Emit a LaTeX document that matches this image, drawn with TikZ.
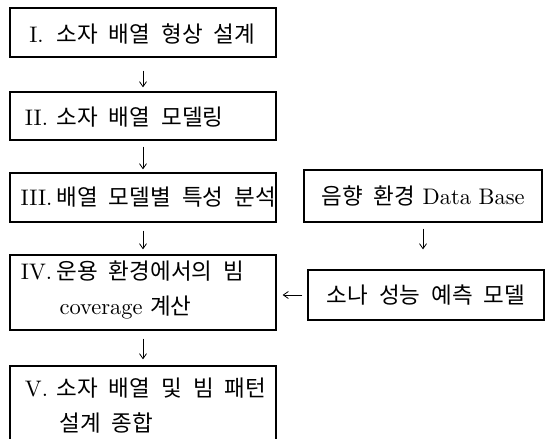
\documentclass[tikz,border=0pt]{standalone}
\usepackage{fontspec}
\setmainfont{lmroman10-regular}[Extension=.otf]
\newfontfamily\kr{Noto Sans CJK KR}
\usetikzlibrary{arrows.meta}
\newcommand{\K}[1]{{\kr\fontsize{22.5}{35}\selectfont\spaceskip=11pt\relax #1}}
\newcommand{\num}[1]{\makebox[40pt][c]{\fontsize{22.5}{35}\selectfont #1}}
\begin{document}
\begin{tikzpicture}[x=1pt,y=-1pt,
  box/.style={draw, line width=1.3pt, minimum width=266pt, inner sep=0pt},
  txt/.style={anchor=west, inner sep=0pt, align=left, font=\fontsize{22.5}{35}\selectfont},
  rtxt/.style={inner sep=0pt, align=center, font=\fontsize{22.5}{35}\selectfont},
  arr/.style={-{Straight Barb[length=5pt,width=7pt]}, line width=0.8pt}]
\clip (0,0) rectangle (549,439);
\fill[white] (0,0) rectangle (549,439);
% boxes
\node[box, minimum height=49pt] (b1) at (143,32.5) {};
\node[box, minimum height=48pt] (b2) at (143,116) {};
\node[box, minimum height=49pt] (b3) at (143,197.5) {};
\node[box, minimum height=75pt] (b4) at (143,292.5) {};
\node[box, minimum height=75pt] (b5) at (143,403.5) {};
\node[box, minimum width=238pt, minimum height=52pt] (db) at (423,196) {};
\node[box, minimum width=236pt, minimum height=50pt] (sn) at (426,295) {};
% texts
\node[txt] (t1) at ([xshift=7pt,yshift=-1pt]b1.west) {\num{I.}\K{소자 배열 형상 설계}};
\node[txt] (t2) at ([xshift=7pt,yshift=-1pt]b2.west) {\num{II.}\K{소자 배열 모델링}};
\node[txt] (t3) at ([xshift=7pt]b3.west) {\num{III.}\K{배열 모델별 특성 분석}};
\node[txt] (t4) at ([xshift=7pt,yshift=3pt]b4.west) {\num{IV.}\K{운용 환경에서의 빔}\\\hspace*{43pt}coverage \K{계산}};
\node[txt] (t5) at ([xshift=7pt,yshift=-2pt]b5.west) {\num{V.}\K{소자 배열 및 빔 패턴}\\\hspace*{43pt}\K{설계 종합}};
\node[rtxt] (t6) at (db) {\K{음향 환경} Data Base};
\node[rtxt] (t7) at (sn) {\K{소나 성능 예측 모델}};
% connectors
\draw[arr, shorten <=13pt, shorten >=4pt] (b1) -- (b2);
\draw[arr, shorten <=6pt, shorten >=3pt] (b2) -- (b3);
\draw[arr, shorten <=8pt, shorten >=5pt] (b3) -- (b4);
\draw[arr, shorten <=8pt, shorten >=6pt] (b4) -- (b5);
\draw[arr, shorten <=6pt, shorten >=20pt] (db.south) -- (db.south |- sn.north);
\draw[arr, shorten <=5pt, shorten >=6pt] (sn.west) -- (sn.west -| b4.east);
\end{tikzpicture}
\end{document}
